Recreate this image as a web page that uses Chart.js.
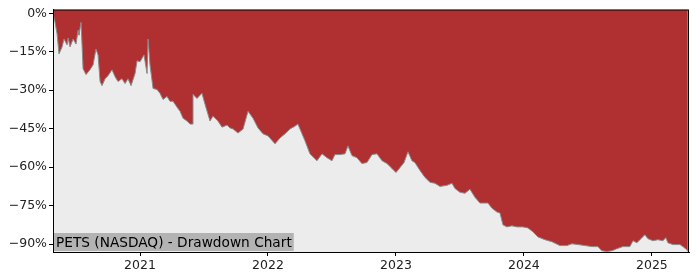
<!DOCTYPE html>
<html>
<head>
<meta charset="utf-8">
<style>
  html, body { margin: 0; padding: 0; background: #fff; }
  #wrap { width: 700px; height: 280px; }
</style>
<script src="https://cdn.jsdelivr.net/npm/chart.js@4.4.1/dist/chart.umd.min.js"></script>
</head>
<body>
<div id="wrap"><canvas id="ddChart" width="700" height="280"></canvas></div>
<script>
// drawdown series, x in decimal years, y in percent
var years = [
    2020.320, 2020.336, 2020.352, 2020.367, 2020.391, 2020.406, 2020.430, 2020.438, 2020.453, 2020.477,
    2020.500, 2020.516, 2020.523, 2020.539, 2020.547, 2020.555, 2020.578, 2020.609, 2020.633, 2020.656,
    2020.672, 2020.688, 2020.703, 2020.727, 2020.750, 2020.781, 2020.805, 2020.828, 2020.859, 2020.883,
    2020.906, 2020.930, 2020.961, 2020.977, 2021.000, 2021.031, 2021.055, 2021.063, 2021.078, 2021.102,
    2021.133, 2021.156, 2021.180, 2021.211, 2021.234, 2021.258, 2021.289, 2021.313, 2021.336, 2021.367,
    2021.391, 2021.410, 2021.414, 2021.445, 2021.484, 2021.508, 2021.547, 2021.570, 2021.609, 2021.641,
    2021.680, 2021.703, 2021.727, 2021.766, 2021.805, 2021.844, 2021.883, 2021.922, 2021.961, 2022.000,
    2022.055, 2022.094, 2022.133, 2022.172, 2022.211, 2022.234, 2022.266, 2022.289, 2022.328, 2022.383,
    2022.422, 2022.461, 2022.500, 2022.523, 2022.563, 2022.602, 2022.625, 2022.656, 2022.695, 2022.734,
    2022.773, 2022.813, 2022.852, 2022.891, 2022.930, 2022.969, 2023.000, 2023.031, 2023.063, 2023.094,
    2023.125, 2023.148, 2023.188, 2023.227, 2023.266, 2023.305, 2023.344, 2023.398, 2023.438, 2023.461,
    2023.500, 2023.539, 2023.578, 2023.617, 2023.656, 2023.695, 2023.719, 2023.750, 2023.789, 2023.813,
    2023.836, 2023.867, 2023.906, 2023.945, 2023.992, 2024.031, 2024.070, 2024.109, 2024.164, 2024.219,
    2024.281, 2024.336, 2024.375, 2024.422, 2024.477, 2024.531, 2024.578, 2024.609, 2024.648, 2024.688,
    2024.727, 2024.773, 2024.828, 2024.852, 2024.883, 2024.906, 2024.945, 2024.969, 2025.008, 2025.047,
    2025.086, 2025.109, 2025.125, 2025.164, 2025.219, 2025.242, 2025.273, 2025.281
];
var drawdown = [
    0.0, -3.5, -8.1, -15.8, -13.1, -10.0, -12.3, -9.6, -13.1, -10.0,
    -12.0, -6.6, -8.5, -3.5, -12.3, -21.6, -23.9, -22.0, -20.1, -13.9,
    -16.2, -26.6, -28.2, -25.5, -24.3, -22.0, -24.7, -26.6, -25.5, -27.4,
    -25.5, -28.2, -23.5, -18.5, -18.9, -16.2, -23.5, -10.0, -20.1, -29.3,
    -29.7, -31.2, -33.6, -32.4, -34.3, -34.3, -36.6, -38.2, -40.9, -42.0,
    -43.2, -43.2, -31.6, -33.2, -31.2, -35.5, -42.0, -40.1, -42.0, -44.4,
    -43.6, -44.7, -45.1, -46.7, -45.1, -38.2, -40.9, -44.7, -47.0, -47.8,
    -50.9, -48.6, -47.0, -45.1, -44.0, -43.2, -47.0, -49.7, -54.8, -57.5,
    -54.8, -56.3, -57.5, -55.1, -55.1, -54.8, -51.7, -55.5, -56.3, -58.6,
    -58.2, -55.1, -54.8, -57.5, -58.6, -60.5, -62.1, -60.2, -58.2, -54.0,
    -57.5, -58.2, -61.3, -64.0, -65.9, -66.3, -67.5, -67.1, -66.3, -68.3,
    -69.8, -70.2, -68.6, -71.7, -74.0, -74.0, -74.0, -76.0, -77.5, -77.9,
    -82.5, -83.3, -82.9, -83.3, -83.3, -83.7, -85.2, -87.2, -88.3, -89.1,
    -90.6, -90.6, -89.9, -90.2, -90.6, -91.0, -91.0, -92.6, -92.9, -92.6,
    -91.8, -91.0, -91.0, -88.7, -89.5, -88.3, -86.4, -87.9, -88.7, -88.3,
    -88.7, -87.5, -89.5, -90.2, -90.2, -91.0, -92.2, -92.9
];
var yearTicks = [2021, 2022, 2023, 2024, 2025];
var pctTicks = [0, -15, -30, -45, -60, -75, -90];
var chartTitle = 'PETS (NASDAQ) - Drawdown Chart';

var points = years.map(function (x, i) { return { x: x, y: drawdown[i] }; });

var frame = {
    id: 'frame',
    beforeDraw: function (chart) {
        var a = chart.chartArea, c = chart.ctx;
        c.save();
        c.fillStyle = '#ececec';
        c.fillRect(a.left, a.top, a.right - a.left, a.bottom - a.top);
        c.restore();
    },
    afterDraw: function (chart) {
        var a = chart.chartArea, c = chart.ctx;
        c.save();
        c.font = '13.7px "DejaVu Sans"';
        var w = c.measureText(chartTitle).width;
        c.fillStyle = '#b3b3b3';
        c.fillRect(a.left, a.bottom - 19, w + 5, 18);
        c.fillStyle = '#000';
        c.textBaseline = 'alphabetic';
        c.fillText(chartTitle, a.left + 3, a.bottom - 5);
        c.strokeStyle = '#000';
        c.lineWidth = 1;
        c.strokeRect(a.left + 0.5, a.top + 0.5, a.right - a.left - 1, a.bottom - a.top);
        c.restore();
    }
};

new Chart(document.getElementById('ddChart'), {
    type: 'line',
    data: {
        datasets: [{
            data: points,
            borderColor: '#8a8a8a',
            borderWidth: 1,
            backgroundColor: '#b03031',
            fill: 'end',
            pointRadius: 0,
            tension: 0
        }]
    },
    options: {
        responsive: false,
        animation: false,
        layout: { padding: { top: 6, right: 11, left: 0, bottom: 0 } },
        plugins: { legend: { display: false }, tooltip: { enabled: false } },
        scales: {
            x: {
                type: 'linear',
                min: 2020.32,
                max: 2025.29,
                afterBuildTicks: function (s) { s.ticks = yearTicks.map(function (v) { return { value: v }; }); },
                afterFit: function (s) { s.height = 28; },
                grid: { drawOnChartArea: false, drawTicks: true, tickLength: 4, color: '#000' },
                border: { display: true, color: '#000' },
                ticks: {
                    color: '#222',
                    font: { family: 'DejaVu Sans', size: 12.5 },
                    padding: 2,
                    maxRotation: 0,
                    callback: function (v) { return String(v); }
                }
            },
            y: {
                min: -93.1,
                max: 1.5,
                afterBuildTicks: function (s) { s.ticks = pctTicks.map(function (v) { return { value: v }; }); },
                afterFit: function (s) { s.width = 53; },
                grid: { drawOnChartArea: false, drawTicks: true, tickLength: 4, color: '#000' },
                border: { display: true, color: '#000' },
                ticks: {
                    color: '#222',
                    font: { family: 'DejaVu Sans', size: 12.5 },
                    padding: 2,
                    callback: function (v) { return (v < 0 ? '\u2212' + Math.abs(v) : v) + '%'; }
                }
            }
        }
    },
    plugins: [frame]
});
</script>
</body>
</html>
